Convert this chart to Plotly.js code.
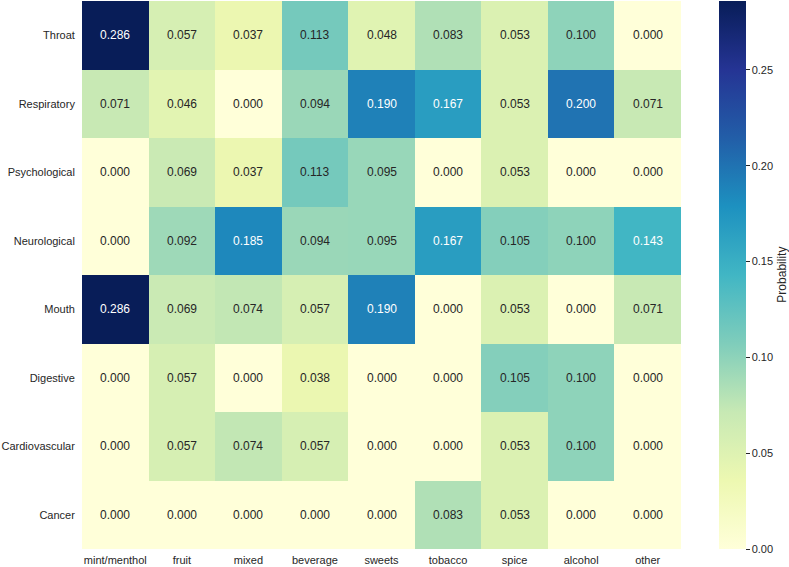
<!DOCTYPE html>
<html>
<head>
<meta charset="utf-8">
<script src="https://cdn.plot.ly/plotly-3.0.1.min.js"></script>
<style>
  body { margin: 0; background: #fff; }
  #chart { width: 789px; height: 567px; }
</style>
</head>
<body>
<div id="chart"></div>
<script>
// flavour categories (columns) and symptom groups (rows)
const flavours = ["mint/menthol", "fruit", "mixed", "beverage", "sweets", "tobacco", "spice", "alcohol", "other"];
const symptoms = ["Throat", "Respiratory", "Psychological", "Neurological", "Mouth", "Digestive", "Cardiovascular", "Cancer"];

const throat        = [0.286, 0.057, 0.037, 0.113, 0.048, 0.083, 0.053, 0.100, 0.000];
const respiratory   = [0.071, 0.046, 0.000, 0.094, 0.190, 0.167, 0.053, 0.200, 0.071];
const psychological = [0.000, 0.069, 0.037, 0.113, 0.095, 0.000, 0.053, 0.000, 0.000];
const neurological  = [0.000, 0.092, 0.185, 0.094, 0.095, 0.167, 0.105, 0.100, 0.143];
const mouth         = [0.286, 0.069, 0.074, 0.057, 0.190, 0.000, 0.053, 0.000, 0.071];
const digestive     = [0.000, 0.057, 0.000, 0.038, 0.000, 0.000, 0.105, 0.100, 0.000];
const cardio        = [0.000, 0.057, 0.074, 0.057, 0.000, 0.000, 0.053, 0.100, 0.000];
const cancer        = [0.000, 0.000, 0.000, 0.000, 0.000, 0.083, 0.053, 0.000, 0.000];

const z = [throat, respiratory, psychological, neurological, mouth, digestive, cardio, cancer];

// matplotlib YlGnBu
const ylgnbu = [
    [0.000, "#ffffd9"], [0.125, "#edf8b1"], [0.250, "#c7e9b4"],
    [0.375, "#7fcdbb"], [0.500, "#41b6c4"], [0.625, "#1d91c0"],
    [0.750, "#225ea8"], [0.875, "#253494"], [1.000, "#081d58"]
];
const zmax = 0.286;

const fam = "Liberation Sans, Arial, Helvetica, sans-serif";
const font = {family: fam, size: 11, color: "#262626"};

let annotations = [];
z.forEach((row, i) => {
    row.forEach((v, j) => {
        annotations.push({
            x: flavours[j], y: symptoms[i],
            text: v.toFixed(3),
            showarrow: false,
            font: {family: fam, size: 12, color: v >= 0.14 ? "#ffffff" : "#262626"}
        });
    });
});

// colorbar label
annotations.push({
    xref: "paper", yref: "paper", x: 1.168, y: 0.5,
    xanchor: "center", yanchor: "middle",
    text: "Probability", textangle: -90, showarrow: false,
    font: {family: fam, size: 12, color: "#262626"}
});

Plotly.newPlot("chart", [{
    type: "heatmap",
    z: z,
    x: flavours,
    y: symptoms,
    zmin: 0,
    zmax: zmax,
    colorscale: ylgnbu,
    hoverinfo: "none",
    colorbar: {
        x: 1.0634, xanchor: "left", xpad: 0,
        y: 0, yanchor: "bottom", ypad: 0, len: 1,
        thickness: 27,
        outlinewidth: 0,
        ticks: "outside", ticklen: 4, tickwidth: 1, tickcolor: "#262626",
        tickvals: [0, 0.05, 0.10, 0.15, 0.20, 0.25],
        ticktext: ["0.00", "0.05", "0.10", "0.15", "0.20", "0.25"],
        tickfont: font
    }
}], {
    width: 789,
    height: 567,
    margin: {l: 82, r: 108, t: 1, b: 18},
    paper_bgcolor: "#ffffff",
    plot_bgcolor: "#ffffff",
    font: font,
    xaxis: {showgrid: false, zeroline: false, ticks: "", tickfont: font, ticklabelstandoff: 3, fixedrange: true},
    yaxis: {showgrid: false, zeroline: false, ticks: "", tickfont: font, autorange: "reversed", ticksuffix: "  ", fixedrange: true},
    annotations: annotations
}, {displayModeBar: false, staticPlot: true});
</script>
</body>
</html>
